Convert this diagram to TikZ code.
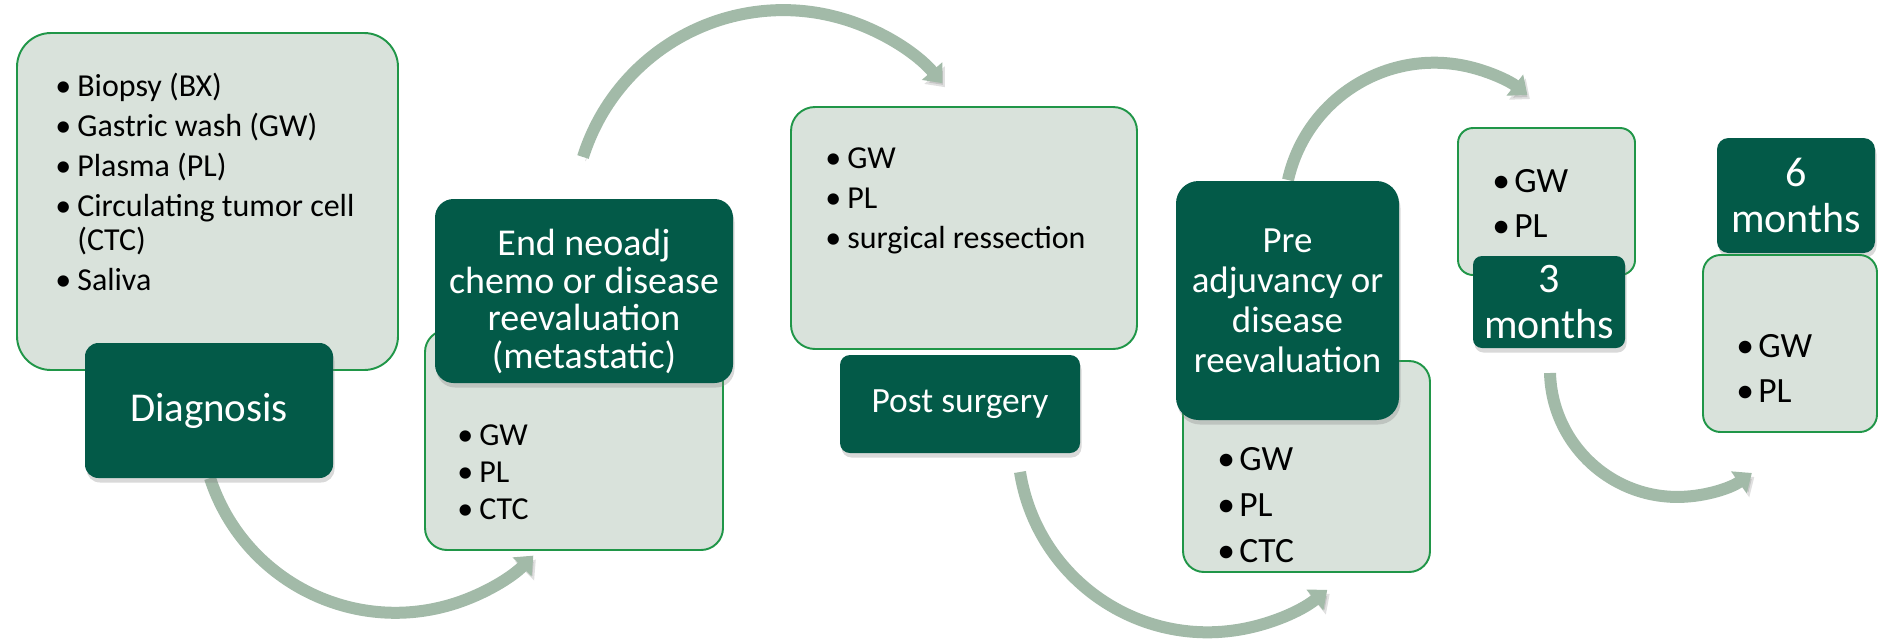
\documentclass[tikz,border=0pt]{standalone}
\usepackage{fontspec}
\setmainfont{Carlito}
\usetikzlibrary{arrows.meta,shadows}

\definecolor{darkgreen}{RGB}{3,90,72}
\definecolor{palegreen}{RGB}{217,226,219}
\definecolor{edgegreen}{RGB}{32,150,72}
\definecolor{arrowgray}{RGB}{162,186,168}

\newcommand{\bul}{\makebox[0.44cm][l]{\textbullet}}

\tikzset{
  lightbox/.style={draw=edgegreen, line width=1.1pt, fill=palegreen, inner sep=0pt},
  darkbox/.style={fill=darkgreen, text=white, align=center, inner sep=2pt,
    drop shadow={shadow xshift=0.3mm, shadow yshift=-0.9mm, opacity=0.3}},
  bullets/.style={anchor=north west, align=left, inner sep=0pt},
  cycle arrow/.style={draw=arrowgray, line width=0.24cm,
    -{Triangle[width=0.52cm,length=0.32cm]},
    preaction={draw=black, opacity=0.12, transform canvas={xshift=0.5mm,yshift=-0.8mm}}}
}

\begin{document}
\begin{tikzpicture}

\useasboundingbox (0,0) rectangle (37.56,-12.84);

% arrows between the stages
\coordinate (a1) at (4.20,-9.56);
\coordinate (a2) at (11.66,-3.14);
\coordinate (a3) at (20.40,-9.44);
\coordinate (a4) at (25.76,-3.60);
\coordinate (a5) at (31.00,-7.46);
\draw[cycle arrow] (a1) arc[start angle=198, end angle=315, radius=3.9];
\draw[cycle arrow] (a2) arc[start angle=162.5, end angle=40.7, radius=4.2];
\draw[cycle arrow] (a3) arc[start angle=189, end angle=309, radius=3.8];
\draw[cycle arrow] (a4) arc[start angle=167.4, end angle=51.7, radius=3.0];
\draw[cycle arrow] (a5) arc[start angle=181.6, end angle=305.7, radius=2.55];

% diagnosis
\node[lightbox, rounded corners=0.68cm, minimum width=7.62cm, minimum height=6.74cm] (lb1) at (4.15,-4.03) {};
\node[bullets, font=\fontsize{18.2}{22.8}\selectfont] (list1) at (1.10,-1.46)
  {\bul Biopsy (BX)\\ \bul Gastric wash (GW)\\ \bul Plasma (PL)\\
   \bul Circulating tumor cell\\[-0.14cm] \hspace*{0.44cm}(CTC)\\ \bul Saliva};
\node[darkbox, rounded corners=0.27cm, minimum width=4.96cm, minimum height=2.70cm,
  font=\fontsize{23.3}{28}\selectfont] (diag) at (4.18,-8.21) {Diagnosis};

% end of neoadjuvant chemo
\node[lightbox, rounded corners=0.44cm, minimum width=5.96cm, minimum height=4.40cm] (lb2) at (11.48,-8.80) {};
\node[bullets, font=\fontsize{18.2}{21.3}\selectfont] (list2) at (9.14,-8.48)
  {\bul GW\\ \bul PL\\ \bul CTC};
\node[darkbox, rounded corners=0.37cm, minimum width=5.96cm, minimum height=3.68cm,
  font=\fontsize{21.6}{21.3}\selectfont] (neoadj) at (11.68,-5.82)
  {\rule{0pt}{0.95cm}End neoadj\\chemo or disease\\reevaluation\\(metastatic)};

% post surgery
\node[lightbox, rounded corners=0.48cm, minimum width=6.92cm, minimum height=4.84cm] (lb3) at (19.28,-4.56) {};
\node[bullets, font=\fontsize{18.2}{22.8}\selectfont] (list3) at (16.50,-2.95)
  {\bul GW\\ \bul PL\\ \bul surgical ressection};
\node[darkbox, rounded corners=0.2cm, minimum width=4.80cm, minimum height=1.96cm,
  font=\fontsize{20.2}{24}\selectfont] (post) at (19.20,-8.08) {Post surgery};

% pre adjuvancy
\node[lightbox, rounded corners=0.42cm, minimum width=4.94cm, minimum height=4.22cm] (lb4) at (26.13,-9.33) {};
\node[bullets, font=\fontsize{20.2}{26.2}\selectfont] (list4) at (24.34,-8.94)
  {\bul GW\\ \bul PL\\ \bul CTC};
\node[darkbox, rounded corners=0.45cm, minimum width=4.46cm, minimum height=4.78cm,
  font=\fontsize{21}{22.8}\selectfont] (preadj) at (25.75,-6.01)
  {Pre\\adjuvancy or\\disease\\reevaluation};

% 3 months
\node[lightbox, rounded corners=0.30cm, minimum width=3.54cm, minimum height=2.94cm] (lb5) at (30.93,-4.03) {};
\node[bullets, font=\fontsize{20.2}{25.6}\selectfont] (list5) at (29.84,-3.38)
  {\bul GW\\ \bul PL};
\node[darkbox, rounded corners=0.18cm, minimum width=3.04cm, minimum height=1.84cm,
  font=\fontsize{23.9}{26}\selectfont] (three) at (30.98,-6.04) {3\\months};

% 6 months
\node[darkbox, rounded corners=0.23cm, minimum width=3.16cm, minimum height=2.30cm,
  font=\fontsize{23.9}{26}\selectfont] (six) at (35.92,-3.91) {6\\months};
\node[lightbox, rounded corners=0.35cm, minimum width=3.48cm, minimum height=3.54cm] (lb6) at (35.80,-6.87) {};
\node[bullets, font=\fontsize{20.2}{25.6}\selectfont] (list6) at (34.72,-6.68)
  {\bul GW\\ \bul PL};

\end{tikzpicture}
\end{document}
